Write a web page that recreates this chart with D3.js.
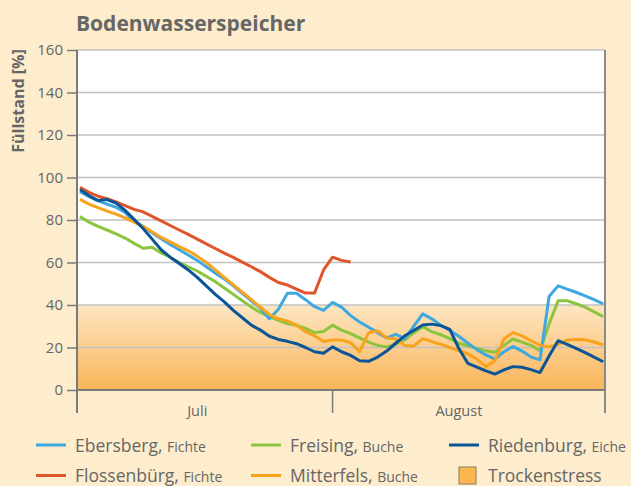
<!DOCTYPE html>
<html>
<head>
<meta charset="utf-8">
<script src="https://cdn.jsdelivr.net/npm/d3@7"></script>
<style>
  body { margin: 0; background: #fdedcd; }
  svg { display: block; }
  text { font-family: "Open Sans", sans-serif; fill: #666; }
</style>
</head>
<body>
<script>
// days counted from 1 July (1 = 1 July, 32 = 1 August); one reading per day from 4 July
var days = d3.range(4, 63);

var ebersberg = [93.3, 91, 89, 87.5, 86, 83.5, 79.5, 77, 74, 71.2,
  68.5, 66, 63.5, 61, 58, 55, 52.3, 49, 45.5, 42,
  38.5, 33.5, 38, 45.5, 45.5, 42.5, 39.2, 37.5, 41.2, 39,
  35, 32, 29.5, 27, 24.5, 26.2, 24.3, 30, 35.8, 33.5,
  30.5, 28, 25.3, 22, 19, 16.5, 14.5, 18, 20.5, 18.3,
  15.5, 14.2, 44, 49, 47.5, 46, 44.3, 42.5, 40.5];

var flossenbuerg = [95.4, 93, 91.2, 90, 88.5, 86.8, 85, 83.8, 81.7, 79.6,
  77.4, 75.3, 73.2, 71, 68.8, 66.6, 64.4, 62.4, 60.2, 58,
  55.7, 53, 50.6, 49.4, 47.5, 45.6, 45.6, 56.5, 62.5, 61, 60.2];

var freising = [81.6, 79, 77, 75.3, 73.5, 71.5, 69, 66.7, 67.2, 64.5,
  62.5, 60, 58, 56, 53.5, 51, 48, 45, 42, 39,
  36.5, 34.5, 32.8, 31.2, 30.4, 29, 27, 27.5, 30.5, 28.2,
  26.5, 24.5, 22.5, 21, 20.3, 21.5, 23.5, 27, 29.8, 27.5,
  26, 24.2, 22, 20.8, 19.5, 18.5, 17.8, 21, 24, 22.5,
  21, 18.5, 31, 42, 42, 40.6, 39, 36.8, 34.5];

var mitterfels = [89.7, 87.5, 85.8, 84.2, 82.8, 81, 79, 77, 74.5, 71.8,
  69.7, 67.5, 65.5, 63, 60, 56.5, 53, 49.5, 46, 42.5,
  39, 35.5, 33.5, 32.4, 30.5, 27.5, 25.5, 22.8, 23.5, 23.5,
  22.3, 18, 27, 27.8, 24.5, 24, 21, 20.6, 24.2, 22.8,
  21.5, 20, 18.5, 17, 14.5, 11, 13.8, 24, 27, 25.5,
  23.2, 21, 20.3, 21.5, 23.5, 23.8, 23.6, 22.6, 21.2];

var riedenburg = [94.3, 91.5, 89.2, 89.6, 88, 84.5, 80.3, 76, 71, 66,
  62.5, 59.5, 56.5, 53, 49, 45, 41.5, 37.5, 34, 30.5,
  28.2, 25.3, 23.8, 22.9, 21.8, 20, 18, 17.3, 20.3, 18,
  16.3, 13.8, 13.5, 15.5, 18.3, 22, 25.5, 28, 30.6, 31,
  30.3, 28.5, 19.5, 12.5, 10.8, 9, 7.5, 9.5, 11, 10.7,
  9.6, 8.2, 16, 23.2, 21.5, 19.6, 17.6, 15.5, 13.3];

var yTicks = [0, 20, 40, 60, 80, 100, 120, 140, 160];
var monthBounds = [3.67, 32, 62.2];
var monthLabels = [{ name: "Juli", day: 17 }, { name: "August", day: 46 }];
var stressLimit = 40;

var series = [
  { name: "Freising", tree: "Buche", color: "#8cc43e", values: freising, col: 1, row: 0 },
  { name: "Ebersberg", tree: "Fichte", color: "#3ea9e0", values: ebersberg, col: 0, row: 0 },
  { name: "Mitterfels", tree: "Buche", color: "#f9a21b", values: mitterfels, col: 1, row: 1 },
  { name: "Flossenbürg", tree: "Fichte", color: "#e0562a", values: flossenbuerg, col: 0, row: 1 },
  { name: "Riedenburg", tree: "Eiche", color: "#0b5596", values: riedenburg, col: 2, row: 0 }
];

var w = 631, h = 486;
var plotL = 77, plotR = 605, plotT = 50, plotB = 390;

var svg = d3.select("body").append("svg")
  .attr("width", w)
  .attr("height", h);

var x = d3.scaleLinear().domain([monthBounds[0], monthBounds[2]]).range([plotL, plotR]);
var y = d3.scaleLinear().domain([0, 160]).range([plotB, plotT]);

// band gradient
var grad = svg.append("defs").append("linearGradient")
  .attr("id", "stress")
  .attr("x1", 0).attr("y1", 0).attr("x2", 0).attr("y2", 1);
grad.append("stop").attr("offset", "0%").attr("stop-color", "#fde6c2");
grad.append("stop").attr("offset", "100%").attr("stop-color", "#f9b458");

// plot area
svg.append("rect")
  .attr("x", plotL).attr("y", plotT)
  .attr("width", plotR - plotL).attr("height", plotB - plotT)
  .attr("fill", "#fff");

svg.append("rect")
  .attr("x", plotL).attr("y", y(stressLimit))
  .attr("width", plotR - plotL).attr("height", y(0) - y(stressLimit))
  .attr("fill", "url(#stress)");

// gridlines
svg.append("g").selectAll("line")
  .data(yTicks.slice(1))
  .enter().append("line")
  .attr("x1", plotL).attr("x2", plotR)
  .attr("y1", function (d) { return y(d); })
  .attr("y2", function (d) { return y(d); })
  .attr("stroke", "#c2c2c2")
  .attr("stroke-width", 1.5);

// lines
var line = d3.line()
  .x(function (d, i) { return x(days[i]); })
  .y(function (d) { return y(d); });

svg.append("g").selectAll("path")
  .data(series)
  .enter().append("path")
  .attr("d", function (s) { return line(s.values); })
  .attr("fill", "none")
  .attr("stroke", function (s) { return s.color; })
  .attr("stroke-width", 3)
  .attr("stroke-linejoin", "round");

// y axis
var yAxis = svg.append("g")
  .attr("transform", "translate(" + plotL + ",0)")
  .call(d3.axisLeft(y).tickValues(yTicks).tickSize(10).tickPadding(4));
yAxis.select(".domain").remove();
yAxis.selectAll(".tick line").attr("stroke", "#7a7a7a").attr("stroke-width", 1.5);
yAxis.selectAll(".tick text")
  .style("font-family", "'Open Sans', sans-serif")
  .style("font-size", "15px")
  .attr("fill", "#666");

// frame: left, right and bottom
svg.append("line")
  .attr("x1", plotL).attr("x2", plotL).attr("y1", plotT).attr("y2", plotB + 23)
  .attr("stroke", "#7a7a7a").attr("stroke-width", 2);
svg.append("line")
  .attr("x1", plotR).attr("x2", plotR).attr("y1", plotT).attr("y2", plotB + 23)
  .attr("stroke", "#8a8a8a").attr("stroke-width", 2);
svg.append("line")
  .attr("x1", plotL).attr("x2", plotR).attr("y1", plotB).attr("y2", plotB)
  .attr("stroke", "#7a7a7a").attr("stroke-width", 2);

// x axis: month separators and labels
svg.append("g").selectAll("line")
  .data(monthBounds.slice(1, 2))
  .enter().append("line")
  .attr("x1", function (d) { return x(d); })
  .attr("x2", function (d) { return x(d); })
  .attr("y1", plotB).attr("y2", plotB + 23)
  .attr("stroke", "#7a7a7a").attr("stroke-width", 1.5);

svg.append("g").selectAll("text")
  .data(monthLabels)
  .enter().append("text")
  .attr("x", function (d) { return x(d.day); })
  .attr("y", 416)
  .attr("text-anchor", "middle")
  .style("font-size", "14.5px")
  .text(function (d) { return d.name; });

// titles
svg.append("text")
  .attr("x", 76).attr("y", 31)
  .style("font-size", "21px")
  .style("font-weight", "bold")
  .attr("fill", "#6a6a6a")
  .text("Bodenwasserspeicher");

svg.append("text")
  .attr("transform", "translate(24,101) rotate(-90)")
  .attr("text-anchor", "middle")
  .style("font-size", "16px")
  .style("font-weight", "bold")
  .text("Füllstand [%]");

// legend
var colX = [36, 251, 449];
var rowY = [445, 475.5];

var leg = svg.append("g").selectAll("g")
  .data(series)
  .enter().append("g")
  .attr("transform", function (s) {
    return "translate(" + colX[s.col] + "," + rowY[s.row] + ")";
  });

leg.append("line")
  .attr("x1", 0).attr("x2", 30)
  .attr("stroke", function (s) { return s.color; })
  .attr("stroke-width", 3);

var lt = leg.append("text")
  .attr("x", 39).attr("y", 6.5);
lt.append("tspan")
  .style("font-size", "17.5px")
  .text(function (s) { return s.name + ", "; });
lt.append("tspan")
  .style("font-size", "14px")
  .text(function (s) { return s.tree; });

var sq = svg.append("g").attr("transform", "translate(" + colX[2] + "," + rowY[1] + ")");
sq.append("rect")
  .attr("x", 10).attr("y", -8.5)
  .attr("width", 17).attr("height", 17)
  .attr("fill", "#fbb64e")
  .attr("stroke", "#9a8a70")
  .attr("stroke-width", 1.2);
sq.append("text")
  .attr("x", 39).attr("y", 6.5)
  .style("font-size", "17.5px")
  .text("Trockenstress");
</script>
</body>
</html>
